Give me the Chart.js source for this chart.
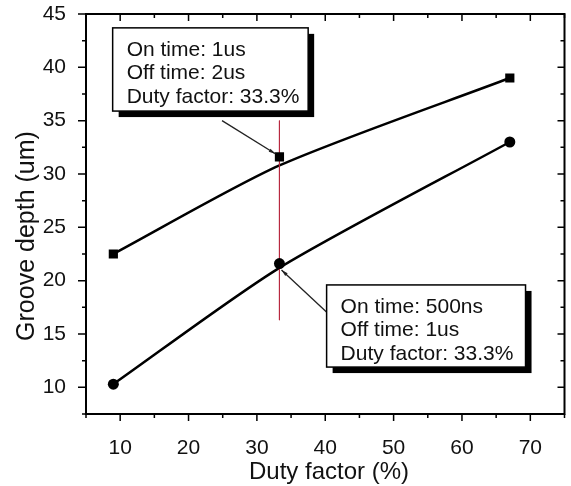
<!DOCTYPE html>
<html>
<head>
<meta charset="utf-8">
<script src="https://cdn.jsdelivr.net/npm/chart.js@4/dist/chart.umd.min.js"></script>
<style>
html,body{margin:0;padding:0;background:#fff;}
#wrap{width:571px;height:486px;position:relative;}
</style>
</head>
<body>
<div id="wrap"><canvas id="c" width="571" height="486"></canvas></div>
<script>
// ---- data ----
const dutyFactor = [9, 33.3, 67];                 // x (%)
const depthLong = [22.5, 31.6, 39.0];             // squares: 1us/2us family
const depthShort = [10.3, 21.6, 33.0];            // circles: 500ns/1us family
const fitLong = [22.5, 30.8, 39.0];               // drawn fit curve (upper)
const fitShort = [10.3, 21.2, 33.0];              // drawn fit curve (lower)
const markerX = 33.3;                             // red vertical marker
const markerY = [35, 16.3];
const xTickLabels = [10, 20, 30, 40, 50, 60, 70];
const yTickLabels = [10, 15, 20, 25, 30, 35, 40, 45];
const note1 = ["On time: 1us", "Off time: 2us", "Duty factor: 33.3%"];
const note2 = ["On time: 500ns", "Off time: 1us", "Duty factor: 33.3%"];
// annotation boxes in data units [x1, y1(top), x2, y2(bottom)]
const note1Box = [8.9, 43.7, 37.5, 35.9];
const note2Box = [40.2, 19.6, 69.3, 11.9];
// leader lines: from (data) to point (data)
const note1Lead = [[24.9, 35.0], [32.7, 31.9]];
const note2Lead = [[40.3, 17.0], [33.6, 21.0]];

const pts = (xs, ys) => xs.map((x, i) => ({x: x, y: ys[i]}));
const FONT = "'Liberation Sans', Arial, sans-serif";

const decor = {
  id: 'decor',
  afterDraw(chart) {
    const ctx = chart.ctx;
    const xs = chart.scales.x, ys = chart.scales.y;
    const a = chart.chartArea;
    ctx.save();
    // frame
    ctx.strokeStyle = '#000';
    ctx.lineWidth = 2;
    ctx.strokeRect(a.left, a.top, a.right - a.left, a.bottom - a.top);
    ctx.lineWidth = 1.5;
    // x ticks (bottom outward, top inward)
    for (let v = xs.min; v <= xs.max + 1e-9; v += 5) {
      const px = xs.getPixelForValue(v);
      const major = Math.abs(v % 10) < 1e-9;
      const L = major ? 7 : 4;
      ctx.beginPath();
      ctx.moveTo(px, a.bottom); ctx.lineTo(px, a.bottom + L);
      ctx.moveTo(px, a.top); ctx.lineTo(px, a.top + L);
      ctx.stroke();
    }
    // y ticks (left outward, right inward)
    for (let v = ys.min; v <= ys.max + 1e-9; v += 2.5) {
      const py = ys.getPixelForValue(v);
      const major = Math.abs(v % 5) < 1e-9;
      const L = major ? 8 : 4;
      ctx.beginPath();
      ctx.moveTo(a.left, py); ctx.lineTo(a.left - L, py);
      ctx.moveTo(a.right, py); ctx.lineTo(a.right - (major ? 7 : 4), py);
      ctx.stroke();
    }
    // leader lines
    const lead = (seg) => {
      const x1 = xs.getPixelForValue(seg[0][0]), y1 = ys.getPixelForValue(seg[0][1]);
      const x2 = xs.getPixelForValue(seg[1][0]), y2 = ys.getPixelForValue(seg[1][1]);
      ctx.strokeStyle = '#222';
      ctx.lineWidth = 1.3;
      ctx.beginPath(); ctx.moveTo(x1, y1); ctx.lineTo(x2, y2); ctx.stroke();
      const ang = Math.atan2(y2 - y1, x2 - x1);
      ctx.fillStyle = '#222';
      ctx.beginPath();
      ctx.moveTo(x2, y2);
      ctx.lineTo(x2 - 7 * Math.cos(ang - 0.25), y2 - 7 * Math.sin(ang - 0.25));
      ctx.lineTo(x2 - 7 * Math.cos(ang + 0.25), y2 - 7 * Math.sin(ang + 0.25));
      ctx.closePath(); ctx.fill();
    };
    lead(note1Lead);
    lead(note2Lead);
    // note boxes
    const box = (b, lines) => {
      const x1 = xs.getPixelForValue(b[0]), y1 = ys.getPixelForValue(b[1]);
      const x2 = xs.getPixelForValue(b[2]), y2 = ys.getPixelForValue(b[3]);
      ctx.fillStyle = '#000';
      ctx.fillRect(x1 + 6, y1 + 6, x2 - x1, y2 - y1);
      ctx.fillStyle = '#fff';
      ctx.fillRect(x1, y1, x2 - x1, y2 - y1);
      ctx.strokeStyle = '#000';
      ctx.lineWidth = 1.5;
      ctx.strokeRect(x1, y1, x2 - x1, y2 - y1);
      ctx.fillStyle = '#111';
      ctx.font = '21px ' + FONT;
      ctx.textAlign = 'left';
      ctx.textBaseline = 'alphabetic';
      lines.forEach((t, i) => ctx.fillText(t, x1 + 14, y1 + 28 + i * 23.5));
    };
    box(note1Box, note1);
    box(note2Box, note2);
    // axis titles
    ctx.fillStyle = '#111';
    ctx.font = '24px ' + FONT;
    ctx.textAlign = 'center';
    ctx.textBaseline = 'alphabetic';
    ctx.fillText('Duty factor (%)', 329, 479);
    ctx.save();
    ctx.translate(34, 236);
    ctx.rotate(-Math.PI / 2);
    ctx.font = '25px ' + FONT;
    ctx.fillText('Groove depth (um)', 0, 0);
    ctx.restore();
    ctx.restore();
  }
};

new Chart(document.getElementById('c'), {
  type: 'scatter',
  data: {
    datasets: [
      {data: pts(dutyFactor, fitLong), showLine: true, borderColor: '#000', borderWidth: 2.5,
       pointRadius: 0, tension: 0.25, order: 3},
      {data: pts(dutyFactor, fitShort), showLine: true, borderColor: '#000', borderWidth: 2.5,
       pointRadius: 0, tension: 0.25, order: 3},
      {data: pts([markerX, markerX], markerY), showLine: true, borderColor: '#b82a40', borderWidth: 1,
       pointRadius: 0, order: 2},
      {data: pts(dutyFactor, depthLong), pointStyle: 'rect', pointRadius: 6.5,
       backgroundColor: '#000', borderColor: '#000', borderWidth: 0, order: 1},
      {data: pts(dutyFactor, depthShort), pointStyle: 'circle', pointRadius: 5.5,
       backgroundColor: '#000', borderColor: '#000', borderWidth: 0, order: 1}
    ]
  },
  options: {
    responsive: false,
    animation: false,
    events: [],
    layout: {padding: {top: 14, right: 3, left: 0, bottom: 0}},
    plugins: {legend: {display: false}, tooltip: {enabled: false}},
    scales: {
      x: {
        type: 'linear', min: 5, max: 75,
        grid: {display: false},
        border: {display: true, color: '#000', width: 2},
        afterFit: (s) => { s.height = 72; s.paddingLeft = 0; s.paddingRight = 0; },
        ticks: {
          stepSize: 5, autoSkip: false, padding: 14, color: '#111', maxRotation: 0,
          font: {family: FONT, size: 21},
          callback: (v) => xTickLabels.includes(v) ? String(v) : ''
        }
      },
      y: {
        type: 'linear', min: 7.5, max: 45,
        grid: {display: false},
        border: {display: true, color: '#000', width: 2},
        afterFit: (s) => { s.width = 86; s.paddingTop = 0; s.paddingBottom = 0; },
        ticks: {
          stepSize: 2.5, autoSkip: false, padding: 12, color: '#111',
          font: {family: FONT, size: 21},
          callback: (v) => yTickLabels.includes(v) ? String(v) : ''
        }
      }
    }
  },
  plugins: [decor]
});
</script>
</body>
</html>
